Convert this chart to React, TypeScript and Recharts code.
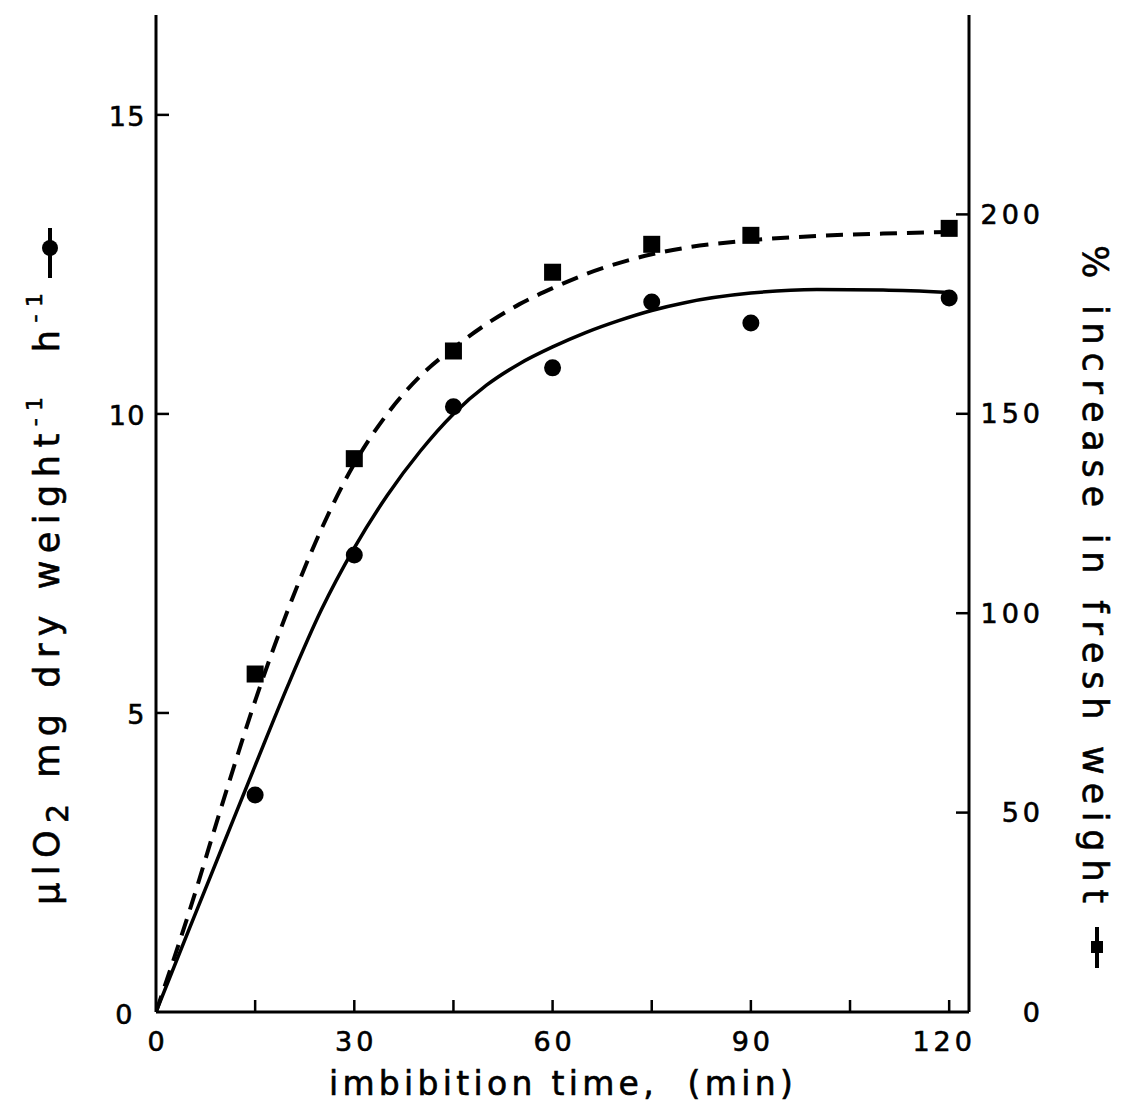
import { ComposedChart, Line, Scatter, XAxis, YAxis } from "recharts";

const FONT = "'DejaVu Sans', sans-serif";

// axis ticks
const TICKS_X = [0, 15, 30, 45, 60, 75, 90, 105, 120];
const LABELED_X = [0, 30, 60, 90, 120];
const TICKS_LEFT = [0, 5, 10, 15];
const TICKS_RIGHT = [0, 50, 100, 150, 200];

// measured points
const TIMES = [15, 30, 45, 60, 75, 90, 120];
const O2_UPTAKE = [3.63, 7.64, 10.12, 10.77, 11.87, 11.52, 11.94];
const FRESH_WEIGHT = [84.75, 138.75, 165.75, 185.5, 192.5, 194.75, 196.5];

// hand-drawn fitted curves
const CURVE_T = [0, 5, 10, 15, 20, 25, 30, 35, 40, 45, 50, 55, 60, 65, 70, 75, 80, 90, 100, 110, 120];
const O2_CURVE = [0, 1.38, 2.75, 4.12, 5.47, 6.72, 7.76, 8.64, 9.38, 10.0, 10.48, 10.84, 11.12, 11.36, 11.56, 11.73, 11.86, 12.02, 12.08, 12.07, 12.03];
const FW_CURVE = [0, 25, 52, 78, 101, 121, 137.5, 150, 159.5, 166.5, 172.5, 177.5, 181.5, 185, 187.8, 190, 191.6, 193.5, 194.6, 195.2, 195.6];

const TICK_FONT = 27;
const INK = { fill: "#000", stroke: "#000", strokeWidth: 0.6 };

function BottomTick({ x, y, payload }: any) {
  const v = payload.value;
  return (
    <g>
      {v !== 0 && <line x1={x} x2={x} y1={y} y2={y - 12} stroke="#000" strokeWidth={2.5} />}
      {LABELED_X.includes(v) && (
        <text x={v === 120 ? x - 5 : x + 2} y={y + 29} textAnchor="middle" dominantBaseline="central"
          fontSize={TICK_FONT} letterSpacing={4} fontFamily={FONT} {...INK}>
          {v}
        </text>
      )}
    </g>
  );
}

function LeftTick({ x, y, payload }: any) {
  const v = payload.value;
  return (
    <g>
      {v !== 0 && <line x1={x} x2={x + 13} y1={y} y2={y} stroke="#000" strokeWidth={2.5} />}
      <text x={v === 0 ? x - 22 : x - 10} y={y + 2} textAnchor="end" dominantBaseline="central"
        fontSize={TICK_FONT} letterSpacing={1.5} fontFamily={FONT} {...INK}>
        {v}
      </text>
    </g>
  );
}

function RightTick({ x, y, payload }: any) {
  const v = payload.value;
  return (
    <g>
      {v !== 0 && <line x1={x} x2={x - 13} y1={y} y2={y} stroke="#000" strokeWidth={2.5} />}
      <text x={x + 75} y={y} textAnchor="end" dominantBaseline="central"
        fontSize={TICK_FONT} letterSpacing={4} fontFamily={FONT} {...INK}>
        {v}
      </text>
    </g>
  );
}

const Dot = ({ cx, cy }: any) => <circle cx={cx} cy={cy} r={8.5} fill="#000" />;
const Sq = ({ cx, cy }: any) => <rect x={cx - 8.5} y={cy - 8.5} width={17} height={17} fill="#000" />;

export default function App() {
  const o2Pts = TIMES.map((t, i) => ({ t, v: O2_UPTAKE[i] }));
  const fwPts = TIMES.map((t, i) => ({ t, v: FRESH_WEIGHT[i] }));
  const o2Curve = CURVE_T.map((t, i) => ({ t, v: O2_CURVE[i] }));
  const fwCurve = CURVE_T.map((t, i) => ({ t, v: FW_CURVE[i] }));

  const axisLine = { stroke: "#000", strokeWidth: 3 };

  return (
    <div style={{ position: "absolute", left: 0, top: 0, width: 1126, height: 1103, background: "#fff", fontFamily: FONT }}>
      <ComposedChart width={1126} height={1103} margin={{ top: 15, right: 77, bottom: 51, left: 96 }}>
        <XAxis xAxisId="b" dataKey="t" type="number" domain={[0, 123]} allowDataOverflow
          ticks={TICKS_X} interval={0} height={40} axisLine={axisLine}
          tickLine={false} tickSize={0} tickMargin={0} tick={<BottomTick />} />
        <XAxis xAxisId="top" dataKey="t" type="number" orientation="top" domain={[0, 123]}
          allowDataOverflow height={0} axisLine={axisLine} tick={false} tickLine={false} />
        <YAxis yAxisId="left" type="number" domain={[0, 16.67]} allowDataOverflow
          ticks={TICKS_LEFT} interval={0} width={60} axisLine={axisLine}
          tickLine={false} tickSize={0} tickMargin={0} tick={<LeftTick />} />
        <YAxis yAxisId="right" orientation="right" type="number" domain={[0, 250]} allowDataOverflow
          ticks={TICKS_RIGHT} interval={0} width={80} axisLine={axisLine}
          tickLine={false} tickSize={0} tickMargin={0} tick={<RightTick />} />

        <Line xAxisId="b" yAxisId="left" data={o2Curve} dataKey="v" type="monotone"
          stroke="#000" strokeWidth={3.5} dot={false} activeDot={false} isAnimationActive={false} />
        <Line xAxisId="b" yAxisId="right" data={fwCurve} dataKey="v" type="monotone"
          stroke="#000" strokeWidth={4} strokeDasharray="17 10" dot={false} activeDot={false} isAnimationActive={false} />
        <Scatter xAxisId="b" yAxisId="left" data={o2Pts} dataKey="v" shape={<Dot />} isAnimationActive={false} />
        <Scatter xAxisId="b" yAxisId="right" data={fwPts} dataKey="v" shape={<Sq />} isAnimationActive={false} />
      </ComposedChart>

      <svg width={1126} height={1103} style={{ position: "absolute", left: 0, top: 0, pointerEvents: "none" }}>
        <text x={563} y={1083} textAnchor="middle" dominantBaseline="central" fontSize={33}
          letterSpacing={4.3} fontFamily={FONT} style={{ whiteSpace: "pre" }} {...INK}>
          imbibition time,  (min)
        </text>

        <g transform="translate(47,0) rotate(-90)">
          <text x={-905} y={0} dominantBaseline="central" fontSize={35} letterSpacing={7.5}
            fontFamily={FONT} style={{ whiteSpace: "pre" }} {...INK}>
            µlO<tspan dy={10} fontSize={30}>2</tspan>
            <tspan dy={-10}> mg dry weight</tspan>
            <tspan dy={-13} fontSize={22}>-1</tspan>
            <tspan dy={13}>  h</tspan>
            <tspan dy={-13} fontSize={22}>-1</tspan>
          </text>
          <line x1={-278} x2={-228} y1={3} y2={3} stroke="#000" strokeWidth={4} />
          <circle cx={-248} cy={3} r={8} fill="#000" />
        </g>

        <g transform="translate(1095,0) rotate(90)">
          <text x={245} y={0} dominantBaseline="central" fontSize={35} letterSpacing={7.8}
            fontFamily={FONT} style={{ whiteSpace: "pre" }} {...INK}>
            % increase in fresh weight
          </text>
          <line x1={927} x2={968} y1={-2} y2={-2} stroke="#000" strokeWidth={4} />
          <rect x={941} y={-8} width={12} height={12} fill="#000" />
        </g>
      </svg>
    </div>
  );
}
